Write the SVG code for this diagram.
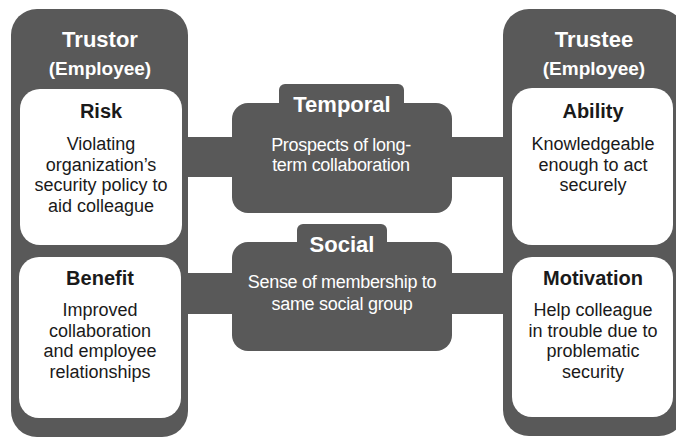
<svg xmlns="http://www.w3.org/2000/svg" width="676" height="439" viewBox="0 0 676 439">
<style>
.dark{fill:#595959}
.white{fill:#ffffff}
.ttl{font-family:"Liberation Sans",Arial,sans-serif;font-weight:bold;fill:#ffffff;text-anchor:middle}
.hd{font-family:"Liberation Sans",Arial,sans-serif;font-weight:bold;font-size:20px;fill:#1a1a1a;text-anchor:middle}
.bd{font-family:"Liberation Sans",Arial,sans-serif;font-size:18px;fill:#1a1a1a;text-anchor:middle}
.bdw{font-family:"Liberation Sans",Arial,sans-serif;font-size:18px;fill:#ffffff;text-anchor:middle;letter-spacing:-0.3px}
</style>
<rect width="676" height="439" fill="#ffffff"/>
<g id="connectors">
<rect class="dark" x="185" y="137" width="50" height="40"/>
<rect class="dark" x="449" y="137" width="57" height="40"/>
<rect class="dark" x="185" y="273" width="50" height="41"/>
<rect class="dark" x="449" y="273" width="57" height="41"/>
</g>
<g id="trustor">
<rect class="dark" x="11" y="9" width="177" height="428" rx="26"/>
<text class="ttl" x="100" y="47" font-size="22">Trustor</text>
<text class="ttl" x="100" y="75" font-size="19">(Employee)</text>
<g id="risk">
<rect class="white" x="20" y="89" width="162" height="156" rx="20"/>
<text class="hd" x="101" y="118">Risk</text>
<text class="bd" x="101" y="150">Violating</text>
<text class="bd" x="101" y="170.5">organization’s</text>
<text class="bd" x="101" y="191">security policy to</text>
<text class="bd" x="101" y="211.5">aid colleague</text>
</g>
<g id="benefit">
<rect class="white" x="19" y="257" width="162" height="161" rx="20"/>
<text class="hd" x="100" y="285">Benefit</text>
<text class="bd" x="100" y="316">Improved</text>
<text class="bd" x="100" y="336.5">collaboration</text>
<text class="bd" x="100" y="357">and employee</text>
<text class="bd" x="100" y="377.5">relationships</text>
</g>
</g>
<g id="trustee">
<rect class="dark" x="503" y="9" width="182" height="427" rx="26"/>
<text class="ttl" x="594" y="47" font-size="22">Trustee</text>
<text class="ttl" x="594" y="75" font-size="19">(Employee)</text>
<g id="ability">
<rect class="white" x="512" y="88" width="161" height="157" rx="20"/>
<text class="hd" x="593" y="118">Ability</text>
<text class="bd" x="593" y="150">Knowledgeable</text>
<text class="bd" x="593" y="170.5">enough to act</text>
<text class="bd" x="593" y="191">securely</text>
</g>
<g id="motivation">
<rect class="white" x="512" y="257" width="161" height="160" rx="20"/>
<text class="hd" x="593" y="285">Motivation</text>
<text class="bd" x="593" y="316">Help colleague</text>
<text class="bd" x="593" y="336.5">in trouble due to</text>
<text class="bd" x="593" y="357">problematic</text>
<text class="bd" x="593" y="377.5">security</text>
</g>
</g>
<g id="temporal">
<rect class="dark" x="279" y="84" width="125" height="40" rx="6"/>
<rect class="dark" x="232" y="103" width="220" height="110" rx="16"/>
<text class="ttl" x="342" y="112" font-size="22">Temporal</text>
<text class="bdw" x="341" y="151">Prospects of long-</text>
<text class="bdw" x="341" y="170.5">term collaboration</text>
</g>
<g id="social">
<rect class="dark" x="297" y="224" width="90" height="40" rx="6"/>
<rect class="dark" x="232" y="242" width="220" height="109" rx="16"/>
<text class="ttl" x="342" y="252" font-size="22">Social</text>
<text class="bdw" x="342" y="288">Sense of membership to</text>
<text class="bdw" x="342" y="310">same social group</text>
</g>
</svg>
